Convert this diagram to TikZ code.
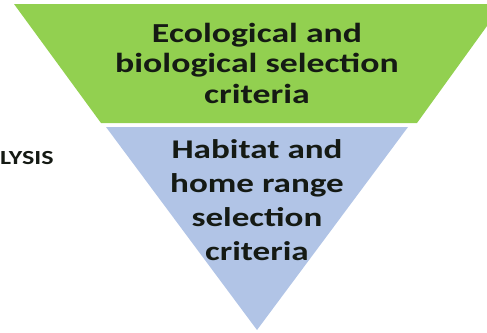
\documentclass[tikz,border=0pt]{standalone}
\usepackage{fontspec}
\setmainfont{Carlito}
\newfontfamily\tierfont[FakeStretch=1.3]{Carlito}
\usetikzlibrary{positioning}
\definecolor{tiergreen}{HTML}{92D050}
\definecolor{tierblue}{HTML}{B1C4E6}
\definecolor{inkdark}{HTML}{151A14}
\tikzstyle{tiertext} = [text=inkdark, align=center, inner sep=0pt,
                        font=\tierfont\bfseries\fontsize{27.5}{30.5}\selectfont]
\tikzstyle{sidetext} = [text=inkdark, inner sep=0pt,
                        font=\tierfont\bfseries\fontsize{20}{22}\selectfont]

\begin{document}
\begin{tikzpicture}[x=1pt, y=-1pt]
  \useasboundingbox (0,0) rectangle (487,332);
  % upper tier
  \fill [tiergreen] (14,4) -- (487,4) -- (487,26) -- (417,123) -- (101,123) -- cycle;
  % lower tier
  \fill [tierblue] (106,127) -- (408,127) -- (257,330) -- cycle;

  \node [tiertext, anchor=base] (ecol) at (257,103)
    {Ecological and\\ biological selection\\ criteria};
  \node [tiertext, anchor=base, font=\tierfont\bfseries\fontsize{27}{33.7}\selectfont]
    (habitat) at (257,260) {Habitat and\\ home range\\ selection\\ criteria};
  \node [sidetext, anchor=base west] (side) at (0,164) {LYSIS};
\end{tikzpicture}
\end{document}
